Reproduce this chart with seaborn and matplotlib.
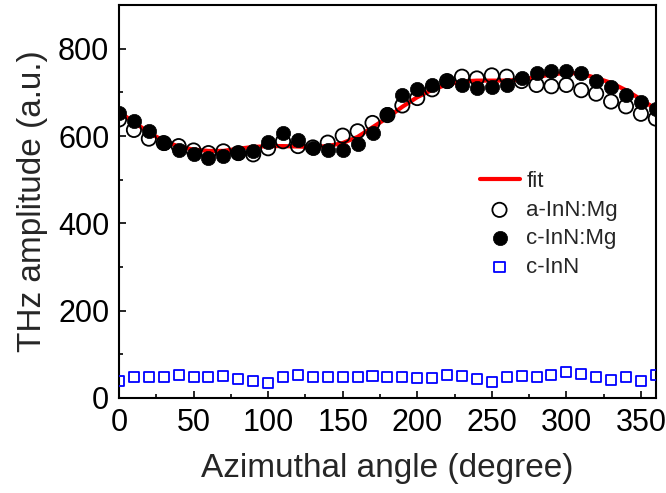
"""
THz amplitude vs azimuthal angle — InN:Mg samples
"""
import numpy as np
import pandas as pd
import matplotlib
matplotlib.use('Agg')
import matplotlib.pyplot as plt
from matplotlib.ticker import MultipleLocator
import seaborn as sns

# ── data ─────────────────────────────────────────────────────────
angle = list(range(0, 361, 10))

a_inn_mg = [638, 614, 594, 584, 577, 567, 561, 565, 561, 558, 572, 588, 577,
            574, 585, 601, 611, 630, 648, 670, 687, 707, 726, 736, 732, 739,
            736, 726, 717, 714, 717, 705, 697, 679, 668, 651, 640]
c_inn_mg = [653, 634, 611, 585, 567, 559, 550, 554, 562, 566, 586, 608, 592,
            573, 567, 568, 581, 606, 651, 694, 707, 717, 726, 716, 711, 713,
            718, 732, 745, 750, 750, 744, 725, 712, 694, 678, 661]
c_inn = [40, 49, 49, 49, 53, 49, 48, 51, 43, 40, 35, 49, 53, 48, 47, 47, 49,
         51, 47, 49, 46, 45, 53, 51, 43, 37, 47, 51, 47, 52, 60, 54, 48, 41,
         49, 39, 53]
fit = [655, 632, 608, 589, 576, 569, 566, 566, 571, 575, 577, 577, 576, 575,
       577, 584, 598, 620, 642, 667, 689, 706, 718, 725, 727, 727, 727, 729,
       735, 741, 745, 743, 733, 722, 705, 684, 662]

df = pd.DataFrame({'angle': angle, 'a': a_inn_mg, 'c': c_inn_mg,
                   'cinn': c_inn, 'fit': fit})

sns.set_theme(style='ticks')
plt.rcParams['font.family'] = ['Liberation Sans', 'DejaVu Sans']

fig = plt.figure(figsize=(6.66, 4.93), dpi=100)
ax = fig.add_axes([0.1787, 0.1927, 0.806, 0.797])

sns.lineplot(data=df, x='angle', y='fit', ax=ax, color='#ff0000',
             linewidth=3.0, label='fit', zorder=2)
sns.scatterplot(data=df, x='angle', y='a', ax=ax, marker='o', s=105,
                facecolors='none', edgecolor='black', linewidth=1.3,
                label='a-InN:Mg', zorder=3)
sns.scatterplot(data=df, x='angle', y='c', ax=ax, marker='o', s=105,
                color='black', edgecolor='black', linewidth=0.5,
                label='c-InN:Mg', zorder=4)
sns.scatterplot(data=df, x='angle', y='cinn', ax=ax, marker='s', s=52,
                facecolors='none', edgecolor='#0000ff', linewidth=1.3,
                label='c-InN', zorder=4)

ax.set_xlim(0, 360)
ax.set_ylim(0, 900)
ax.xaxis.set_major_locator(MultipleLocator(50))
ax.xaxis.set_minor_locator(MultipleLocator(25))
ax.yaxis.set_major_locator(MultipleLocator(200))
ax.yaxis.set_minor_locator(MultipleLocator(100))
ax.tick_params(which='both', direction='in', top=False, right=False,
               width=1.2, labelsize=22, pad=7, colors='black')
ax.tick_params(which='major', length=5)
ax.tick_params(which='minor', length=3)
for sp in ax.spines.values():
    sp.set_linewidth(1.5)
    sp.set_color('black')
    sp.set_visible(True)

ax.set_xlabel('Azimuthal angle (degree)', fontsize=24, labelpad=11)
ax.set_ylabel('THz amplitude (a.u.)', fontsize=24, labelpad=7)

ax.legend(loc='upper left', bbox_to_anchor=(0.655, 0.60), frameon=False,
          fontsize=16, handlelength=1.8, handletextpad=0.3,
          labelspacing=0.34, borderaxespad=0)

plt.savefig('out.png', dpi=100)
plt.close()
